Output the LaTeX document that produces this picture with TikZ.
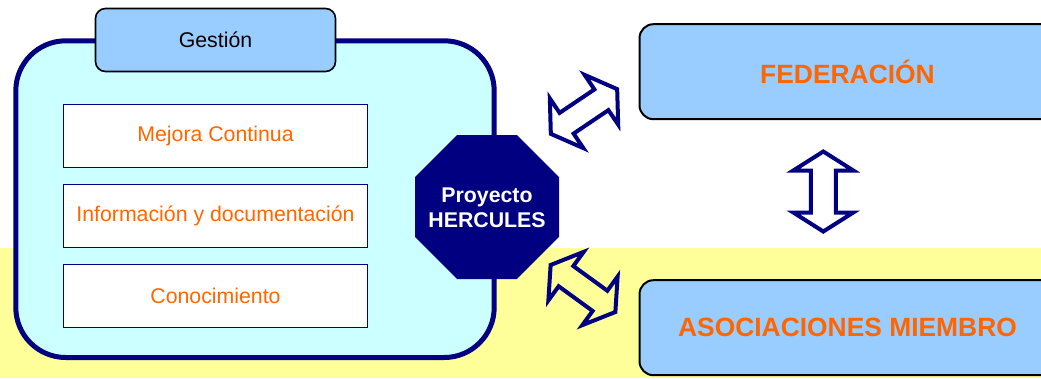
\documentclass[tikz,border=0pt]{standalone}
\usepackage{fontspec}
\setmainfont{Liberation Sans}
\definecolor{navy}{HTML}{000080}
\definecolor{lcyan}{HTML}{CCFFFF}
\definecolor{lblue}{HTML}{99CCFF}
\definecolor{orng}{HTML}{FF6600}
\definecolor{lyellow}{HTML}{FFFF99}
\tikzset{
  itembox/.style={draw=navy, line width=1.6pt, fill=white, minimum width=304pt, minimum height=63pt, inner sep=0pt,
    text=orng, font=\fontsize{21.3}{25}\selectfont},
  bigbox/.style={draw=black, line width=2pt, fill=lblue, rounded corners=14pt, minimum width=416pt, minimum height=95pt,
    inner sep=0pt, text=orng, font=\bfseries\fontsize{26.4}{30}\selectfont},
  dblarrow/.style={draw=navy, line width=4pt, line join=miter},
}
\newcommand{\dblarrowpath}{(-40,0) -- (-21,30) -- (-21,12.5) -- (21,12.5) -- (21,30) -- (40,0) -- (21,-30) -- (21,-12.5) -- (-21,-12.5) -- (-21,-30) -- cycle}
\begin{document}
\begin{tikzpicture}[x=1pt,y=-1pt]
\useasboundingbox (0,0) rectangle (1041,378);
% background band
\fill[lyellow] (0,248.3) rectangle (1041,378);
% large container
\draw[navy, line width=5pt, fill=lcyan, rounded corners=50pt] (15.8,40.8) rectangle (494.2,357.5);
% tab
\node[draw=black, line width=1.6pt, fill=lblue, rounded corners=10pt, minimum width=240pt, minimum height=63pt,
  inner sep=0pt, font=\fontsize{21.3}{25}\selectfont] (gestion) at (215.5,40) {Gestión};
% items
\node[itembox] (mejora) at (215.5,136) {Mejora Continua};
\node[itembox] (info) at (215.5,216) {Información y documentación};
\node[itembox] (conoc) at (215.5,296) {Conocimiento};
% octagon
\fill[navy, shift={(487,207)}] (-29.8,-72) -- (29.8,-72) -- (72,-29.8) -- (72,29.8) -- (29.8,72) -- (-29.8,72)
  -- (-72,29.8) -- (-72,-29.8) -- cycle;
\node[text=white, align=center, inner sep=0pt, font=\bfseries\fontsize{21.3}{25}\selectfont] (herc) at (487,208) {Proyecto\\HERCULES};
% right boxes
\node[bigbox] (fed) at (847.5,71.7) {FEDERACIÓN};
\node[bigbox] (asoc) at (847.5,327.7) {ASOCIACIONES MIEMBRO};
% double arrows
\begin{scope}[shift={(584,111.5)}, rotate=34]
  \draw[dblarrow] \dblarrowpath;
\end{scope}
\begin{scope}[shift={(583,288.5)}, rotate=-36]
  \draw[dblarrow] \dblarrowpath;
\end{scope}
\begin{scope}[shift={(823.3,191.5)}, rotate=90]
  \draw[dblarrow] \dblarrowpath;
\end{scope}
\end{tikzpicture}
\end{document}
